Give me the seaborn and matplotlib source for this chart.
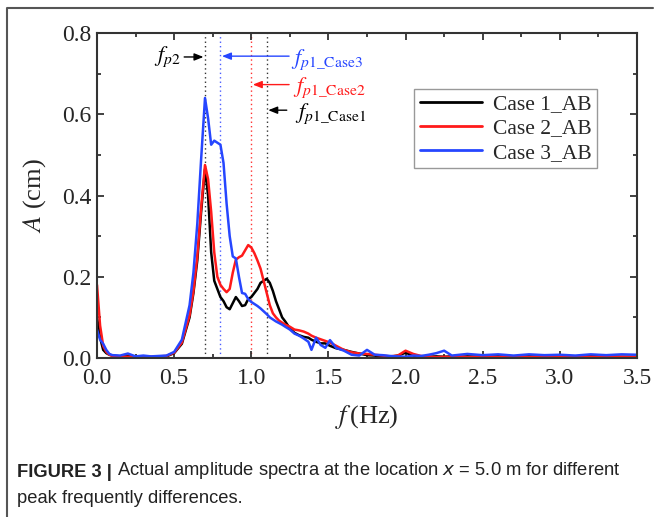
import numpy as np
import pandas as pd
import matplotlib
matplotlib.use("Agg")
import matplotlib.pyplot as plt
import seaborn as sns
from matplotlib.lines import Line2D
from matplotlib.ticker import MultipleLocator

# ---------------- data ----------------
freq = [0.0, 0.02, 0.04, 0.06, 0.08, 0.1, 0.15, 0.2, 0.25, 0.3, 0.35, 0.4, 0.45, 0.5,
        0.55, 0.6, 0.625, 0.65, 0.675, 0.7, 0.72, 0.74, 0.76, 0.78, 0.8, 0.82, 0.84,
        0.86, 0.88, 0.9, 0.92, 0.94, 0.96, 0.98, 1.0, 1.02, 1.04, 1.06, 1.08, 1.1,
        1.12, 1.14, 1.16, 1.18, 1.2, 1.22, 1.25, 1.28, 1.31, 1.34, 1.37, 1.39, 1.42,
        1.45, 1.48, 1.51, 1.55, 1.6, 1.65, 1.7, 1.75, 1.8, 1.85, 1.9, 1.95, 2.0,
        2.05, 2.1, 2.15, 2.2, 2.25, 2.3, 2.35, 2.4, 2.5, 2.6, 2.7, 2.8, 2.9, 3.0,
        3.1, 3.2, 3.3, 3.4, 3.5]

case1 = [0.10, 0.05, 0.02, 0.012, 0.008, 0.006, 0.004, 0.005, 0.002, 0.003, 0.002, 0.003,
         0.004, 0.012, 0.035, 0.10, 0.16, 0.24, 0.36, 0.465, 0.40, 0.26, 0.19, 0.17,
         0.15, 0.14, 0.125, 0.12, 0.135, 0.15, 0.14, 0.128, 0.13, 0.145, 0.15, 0.16,
         0.17, 0.185, 0.19, 0.195, 0.185, 0.165, 0.14, 0.12, 0.10, 0.09, 0.073, 0.062,
         0.056, 0.052, 0.05, 0.045, 0.04, 0.036, 0.036, 0.03, 0.024, 0.02, 0.015, 0.011,
         0.007, 0.006, 0.002, 0.003, 0.006, 0.013, 0.006, 0.004, 0.003, 0.004, 0.003,
         0.004, 0.003, 0.004, 0.003, 0.004, 0.003, 0.004, 0.003, 0.004, 0.003, 0.005,
         0.004, 0.003, 0.003]

case2 = [0.18, 0.08, 0.03, 0.015, 0.008, 0.005, 0.004, 0.003, 0.004, 0.003, 0.003, 0.004,
         0.005, 0.013, 0.038, 0.105, 0.165, 0.25, 0.37, 0.475, 0.44, 0.36, 0.26, 0.20,
         0.18, 0.17, 0.162, 0.17, 0.21, 0.242, 0.248, 0.252, 0.265, 0.278, 0.272, 0.258,
         0.24, 0.22, 0.19, 0.16, 0.13, 0.11, 0.10, 0.092, 0.087, 0.082, 0.077, 0.07,
         0.068, 0.065, 0.06, 0.055, 0.05, 0.046, 0.042, 0.038, 0.03, 0.02, 0.014, 0.011,
         0.01, 0.008, 0.006, 0.004, 0.006, 0.018, 0.01, 0.005, 0.003, 0.002, 0.003,
         0.002, 0.004, 0.002, 0.003, 0.002, 0.004, 0.002, 0.003, 0.002, 0.004, 0.003,
         0.002, 0.003, 0.002]

case3 = [0.07, 0.045, 0.035, 0.02, 0.01, 0.007, 0.006, 0.011, 0.004, 0.006, 0.004, 0.005,
         0.006, 0.015, 0.045, 0.13, 0.21, 0.33, 0.49, 0.64, 0.59, 0.525, 0.535, 0.53,
         0.525, 0.48, 0.38, 0.30, 0.25, 0.245, 0.20, 0.16, 0.158, 0.145, 0.138, 0.133,
         0.128, 0.122, 0.115, 0.108, 0.10, 0.095, 0.09, 0.086, 0.082, 0.077, 0.07, 0.06,
         0.055, 0.048, 0.04, 0.02, 0.05, 0.032, 0.025, 0.044, 0.025, 0.018, 0.008, 0.006,
         0.02, 0.008, 0.007, 0.005, 0.004, 0.003, 0.006, 0.005, 0.008, 0.012, 0.018,
         0.006, 0.008, 0.01, 0.007, 0.009, 0.006, 0.009, 0.007, 0.008, 0.006, 0.009,
         0.007, 0.009, 0.008]

case_names = ["Case 1_AB", "Case 2_AB", "Case 3_AB"]
case_colors = ["#000000", "#ff1a1a", "#2646ff"]

# peak-frequency markers
peak_freqs = [0.70, 0.80, 1.00, 1.10]
peak_colors = ["#333333", "#4a5cff", "#ff3030", "#333333"]

x_ticks = [0.0, 0.5, 1.0, 1.5, 2.0, 2.5, 3.0, 3.5]
y_ticks = [0.0, 0.2, 0.4, 0.6, 0.8]

# ---------------- build table ----------------
rows = []
for name, vals in zip(case_names, [case1, case2, case3]):
    for f, a in zip(freq, vals):
        rows.append((f, a, name))
df = pd.DataFrame(rows, columns=["f", "A", "case"])

sns.set_theme(style="ticks")
plt.rcParams["font.family"] = ["Liberation Serif", "DejaVu Serif"]
plt.rcParams["mathtext.fontset"] = "stix"

W, H = 654, 517
fig = plt.figure(figsize=(W / 100, H / 100), dpi=100)
ax = fig.add_axes([97 / W, 1 - 358 / H, (637 - 97) / W, (358 - 33) / H])

sns.lineplot(data=df, x="f", y="A", hue="case", palette=dict(zip(case_names, case_colors)),
             linewidth=1.8, estimator=None, sort=False, ax=ax)

for pf, pc in zip(peak_freqs, peak_colors):
    ax.axvline(pf, color=pc, linestyle=(0, (1, 2.2)), linewidth=1.0, zorder=0.5)

ax.set_xlim(0, 3.5)
ax.set_ylim(0, 0.8)
ax.set_xticks(x_ticks)
ax.set_yticks(y_ticks)
ax.set_xticklabels([f"{v:.1f}" for v in x_ticks])
ax.set_yticklabels([f"{v:.1f}" for v in y_ticks])
ax.xaxis.set_minor_locator(MultipleLocator(0.25))
ax.yaxis.set_minor_locator(MultipleLocator(0.1))
ax.tick_params(which="both", direction="in", top=True, right=True, labelsize=17,
               color="#333333", width=1.3)
ax.tick_params(which="major", length=5, pad=4)
ax.tick_params(axis="x", which="major", pad=7)
ax.tick_params(which="minor", length=3)
for s in ax.spines.values():
    s.set_color("#333333")
    s.set_linewidth(1.5)

ax.set_xlabel(r"$f\,$(Hz)", fontsize=19, labelpad=10)
ax.set_ylabel(r"$A$ (cm)", fontsize=19, labelpad=10)

# legend
leg = ax.legend(loc="upper right", bbox_to_anchor=(0.946, 0.862), fontsize=15.5,
                frameon=True, fancybox=False, edgecolor="#999999", framealpha=1,
                handlelength=2.9, handletextpad=0.5, borderpad=0.25, labelspacing=0.2,
                title=None)
for lh in leg.get_lines():
    lh.set_linewidth(2.0)

# annotations
arrow_kw = dict(arrowstyle="-|>,head_length=0.45,head_width=0.18", lw=1.0, shrinkA=0, shrinkB=0)
ax.annotate("", xy=(0.69, 0.741), xytext=(0.565, 0.741),
            arrowprops=dict(color="black", **arrow_kw))
ax.text(0.545, 0.741, r"$f_{p2}$", color="black", fontsize=16, ha="right", va="center")

ax.annotate("", xy=(0.81, 0.743), xytext=(1.245, 0.743),
            arrowprops=dict(color="#2646ff", **arrow_kw))
ax.text(1.26, 0.735, r"$f_{p1\_\mathrm{Case3}}$", color="#2646ff", fontsize=16,
        ha="left", va="center")

ax.annotate("", xy=(1.01, 0.673), xytext=(1.245, 0.673),
            arrowprops=dict(color="#ff1a1a", **arrow_kw))
ax.text(1.27, 0.665, r"$f_{p1\_\mathrm{Case2}}$", color="#ff1a1a", fontsize=16,
        ha="left", va="center")

ax.annotate("", xy=(1.11, 0.61), xytext=(1.23, 0.61),
            arrowprops=dict(color="black", **arrow_kw))
ax.text(1.285, 0.6, r"$f_{p1\_\mathrm{Case1}}$", color="black", fontsize=16,
        ha="left", va="center")

# figure frame (top and left border)
fig.add_artist(Line2D([7 / W, 7 / W, 653 / W], [0, 1 - 8 / H, 1 - 8 / H],
                      transform=fig.transFigure, color="#555555", lw=1.5))

# caption
cap_font = ["Liberation Sans", "DejaVu Sans"]
t1 = fig.text(17 / W, 1 - 477 / H, "FIGURE 3 |", fontsize=13.2, fontweight="bold",
              family=cap_font, va="baseline", ha="left", color="#222222")
plt.annotate(" Actual amplitude spectra at the location $x$ = 5.0 m for different",
             xy=(1, 0), xycoords=t1, va="bottom", ha="left", fontsize=13.2,
             family=cap_font, color="#222222", math_fontfamily="dejavusans",
             annotation_clip=False)
fig.text(17 / W, 1 - 503 / H, "peak frequently differences.", fontsize=13.2,
         family=cap_font, va="baseline", ha="left", color="#222222")

fig.savefig("out.png", dpi=100)
